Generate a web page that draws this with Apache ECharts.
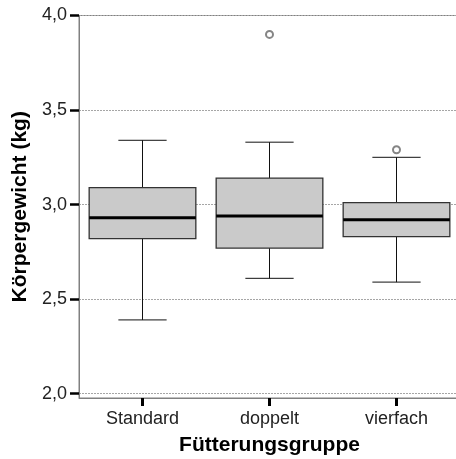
<!DOCTYPE html>
<html>
<head>
<meta charset="utf-8">
<script src="https://cdn.jsdelivr.net/npm/echarts@6/dist/echarts.min.js"></script>
<style>
  html, body { margin: 0; padding: 0; background: #fff; }
  #chart { width: 456px; height: 459px; }
</style>
</head>
<body>
<div id="chart"></div>
<script>
// Fütterungsgruppen
const categories = ['Standard', 'doppelt', 'vierfach']
// [min, Q1, Median, Q3, max] je Gruppe
const whiskerLow = [2.39, 2.61, 2.59]
const quart1 = [2.82, 2.77, 2.83]
const medians = [2.93, 2.94, 2.92]
const quart3 = [3.09, 3.14, 3.01]
const whiskerHigh = [3.34, 3.33, 3.25]
// Ausreißer [Gruppe, Wert]
const outliers = [[1, 3.90], [2, 3.29]]
const yTicks = [2.0, 2.5, 3.0, 3.5, 4.0]

const font = '"Liberation Sans", Arial, sans-serif'

const boxData = categories.map((c, i) => [i, whiskerLow[i], quart1[i], medians[i], quart3[i], whiskerHigh[i]])

function renderBox(params, api) {
  const idx = api.value(0)
  const band = api.size([1, 0])[0]
  const boxHalf = band * 0.42
  const capHalf = band * 0.19
  const pLow = api.coord([idx, api.value(1)])
  const pQ1 = api.coord([idx, api.value(2)])
  const pMed = api.coord([idx, api.value(3)])
  const pQ3 = api.coord([idx, api.value(4)])
  const pHigh = api.coord([idx, api.value(5)])
  const x = pMed[0]
  const lineStyle = { stroke: '#111', lineWidth: 1 }
  return {
    type: 'group',
    children: [
      { type: 'line', shape: { x1: x, y1: pQ3[1], x2: x, y2: pHigh[1] }, style: lineStyle },
      { type: 'line', shape: { x1: x - capHalf, y1: pHigh[1], x2: x + capHalf, y2: pHigh[1] }, style: lineStyle },
      { type: 'line', shape: { x1: x, y1: pQ1[1], x2: x, y2: pLow[1] }, style: lineStyle },
      { type: 'line', shape: { x1: x - capHalf, y1: pLow[1], x2: x + capHalf, y2: pLow[1] }, style: lineStyle },
      {
        type: 'rect',
        shape: { x: x - boxHalf, y: pQ3[1], width: boxHalf * 2, height: pQ1[1] - pQ3[1] },
        style: { fill: '#cacaca', stroke: '#333', lineWidth: 1.3 }
      },
      { type: 'line', shape: { x1: x - boxHalf, y1: pMed[1], x2: x + boxHalf, y2: pMed[1] }, style: { stroke: '#000', lineWidth: 3 } }
    ]
  }
}

const chart = echarts.init(document.getElementById('chart'))
chart.setOption({
  animation: false,
  grid: {
    left: 79,
    top: 15.5,
    right: -4,
    bottom: 61,
    show: true,
    borderColor: '#808080',
    borderWidth: 1,
    outerBoundsMode: 'none'
  },
  xAxis: {
    type: 'category',
    data: categories,
    name: 'Fütterungsgruppe',
    nameLocation: 'middle',
    nameGap: 37,
    nameTextStyle: { fontFamily: font, fontWeight: 'bold', fontSize: 21, color: '#000' },
    axisLine: { show: true, lineStyle: { color: '#808080', width: 1 } },
    axisTick: { show: true, alignWithLabel: true, length: 8, lineStyle: { color: '#000', width: 3 } },
    axisLabel: { fontFamily: font, fontSize: 18, color: '#222', margin: 12 },
    splitLine: { show: false }
  },
  yAxis: {
    type: 'value',
    min: 1.977,
    max: 4.0,
    name: 'Körpergewicht (kg)',
    nameLocation: 'middle',
    nameGap: 43,
    nameTextStyle: { fontFamily: font, fontWeight: 'bold', fontSize: 21, color: '#000' },
    axisLine: { show: true, lineStyle: { color: '#808080', width: 1 } },
    axisTick: { show: true, length: 9, customValues: yTicks, lineStyle: { color: '#000', width: 2.5 } },
    axisLabel: {
      fontFamily: font, fontSize: 18, color: '#222', margin: 12,
      customValues: yTicks,
      formatter: v => v.toFixed(1).replace('.', ',')
    },
    splitLine: { show: true, lineStyle: { color: '#a6a6a6', width: 1, type: [2, 1] } }
  },
  series: [
    {
      type: 'custom',
      renderItem: renderBox,
      encode: { x: 0, y: [1, 2, 3, 4, 5] },
      data: boxData,
      z: 3
    },
    {
      type: 'scatter',
      data: outliers,
      symbol: 'emptyCircle',
      symbolSize: 7,
      itemStyle: { color: '#666', borderColor: '#666', borderWidth: 1 },
      z: 4
    }
  ]
})
</script>
</body>
</html>
